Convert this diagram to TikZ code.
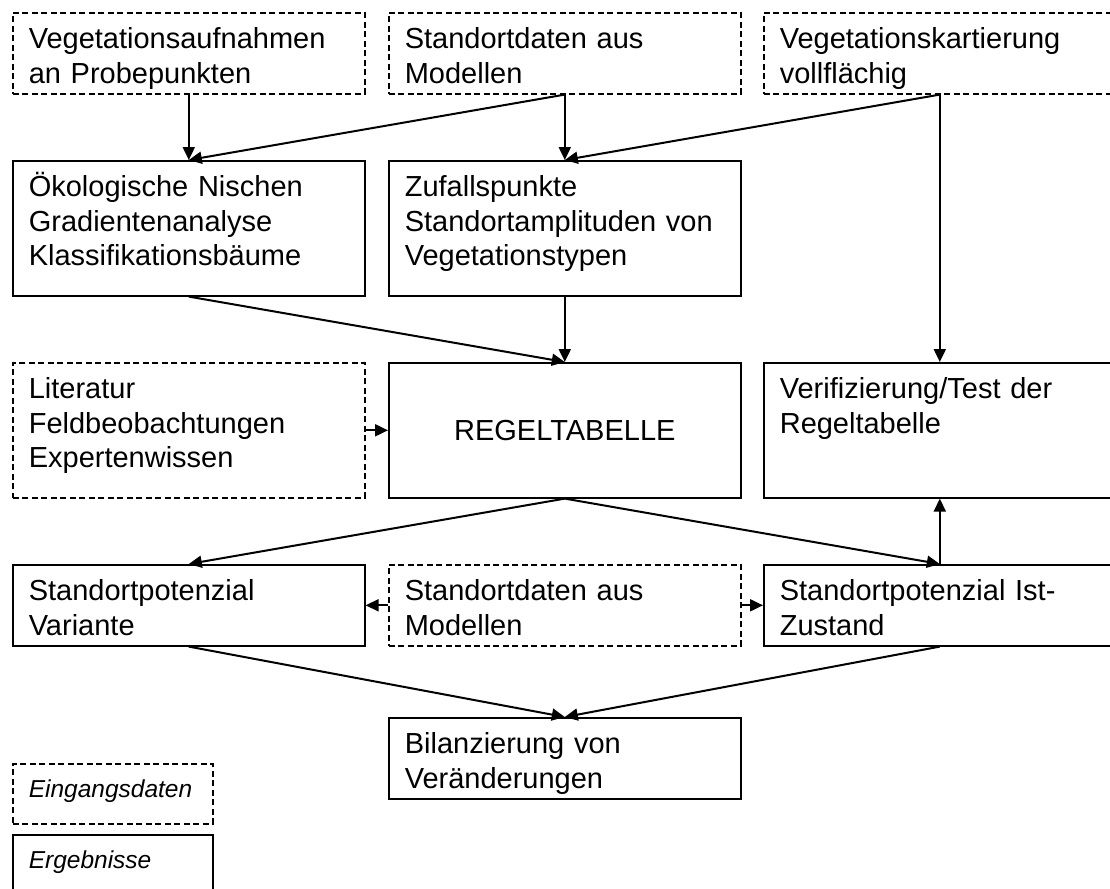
\documentclass[tikz,border=0pt]{standalone}
\usepackage{fontspec}
\setmainfont{Liberation Sans}
\usetikzlibrary{arrows.meta, positioning}

\tikzset{
    box/.style={draw, line width=1.6pt, rectangle, anchor=north west,
        inner xsep=16pt, inner ysep=0pt, text width=320pt, align=left,
        font=\fontsize{29}{34.5}\selectfont, text height=36pt},
    inbox/.style={box, dash pattern=on 6pt off 3.5pt},
    outbox/.style={box},
    flat/.style={text depth=45pt},
    tall/.style={text depth=99pt},
    legbox/.style={box, text width=168pt, text height=34pt, text depth=26pt,
        font=\fontsize{24.5}{30}\selectfont\itshape},
    arr/.style={-{Triangle[length=13pt, width=12pt]}, line width=2pt}
}

\begin{document}
\begin{tikzpicture}[x=1pt, y=-1pt]
    \useasboundingbox (0,0) rectangle (1110,888);
    \clip (0,0) rectangle (1110,888);

    % Input data
    \node[inbox, flat] (aufn) at (12,12) {Vegetationsaufnahmen\\an Probepunkten};
    \node[inbox, flat] (stdat) at (388,12) {Standortdaten aus\\Modellen};
    \node[inbox, flat] (kart) at (763,12) {Vegetationskartierung\\vollfl\"achig};

    % Analyses
    \node[outbox, tall] (nisch) at (12,160) {\"Okologische Nischen\\Gradientenanalyse\\Klassifikationsb\"aume};
    \node[outbox, tall] (zufall) at (388,160) {Zufallspunkte\\Standortamplituden von\\Vegetationstypen};

    % Rule table
    \node[inbox, tall] (lit) at (12,362) {Literatur\\Feldbeobachtungen\\Expertenwissen};
    \node[box, align=center, text height=78pt, text depth=57pt] (regel) at (388,362) {REGELTABELLE};
    \node[outbox, tall] (verif) at (763,362) {Verifizierung/Test der\\Regeltabelle};

    % Site potential
    \node[outbox, flat] (varia) at (12,564) {Standortpotenzial\\Variante};
    \node[inbox, flat] (stdat2) at (388,564) {Standortdaten aus\\Modellen};
    \node[outbox, flat] (ist) at (763,564) {Standortpotenzial Ist-\\Zustand};

    % Balance
    \node[outbox, flat] (bilanz) at (388,717) {Bilanzierung von\\Ver\"anderungen};

    % Legend
    \node[legbox, dash pattern=on 6pt off 3.5pt] (legin) at (12,763) {Eingangsdaten};
    \node[legbox] (legout) at (12,834) {Ergebnisse};

    % Arrows
    \draw[arr] (aufn.south) -- (nisch.north);
    \draw[arr] (stdat.south) -- (nisch.north);
    \draw[arr] (stdat.south) -- (zufall.north);
    \draw[arr] (kart.south) -- (zufall.north);
    \draw[arr] (kart.south) -- (verif.north);
    \draw[arr] (nisch.south) -- (regel.north);
    \draw[arr] (zufall.south) -- (regel.north);
    \draw[arr] (lit.east) -- (regel.west);
    \draw[arr] (regel.south) -- (varia.north);
    \draw[arr] (regel.south) -- (ist.north);
    \draw[arr] (ist.north) -- (verif.south);
    \draw[arr] (stdat2.west) -- (varia.east);
    \draw[arr] (stdat2.east) -- (ist.west);
    \draw[arr] (varia.south) -- (bilanz.north);
    \draw[arr] (ist.south) -- (bilanz.north);
\end{tikzpicture}
\end{document}
